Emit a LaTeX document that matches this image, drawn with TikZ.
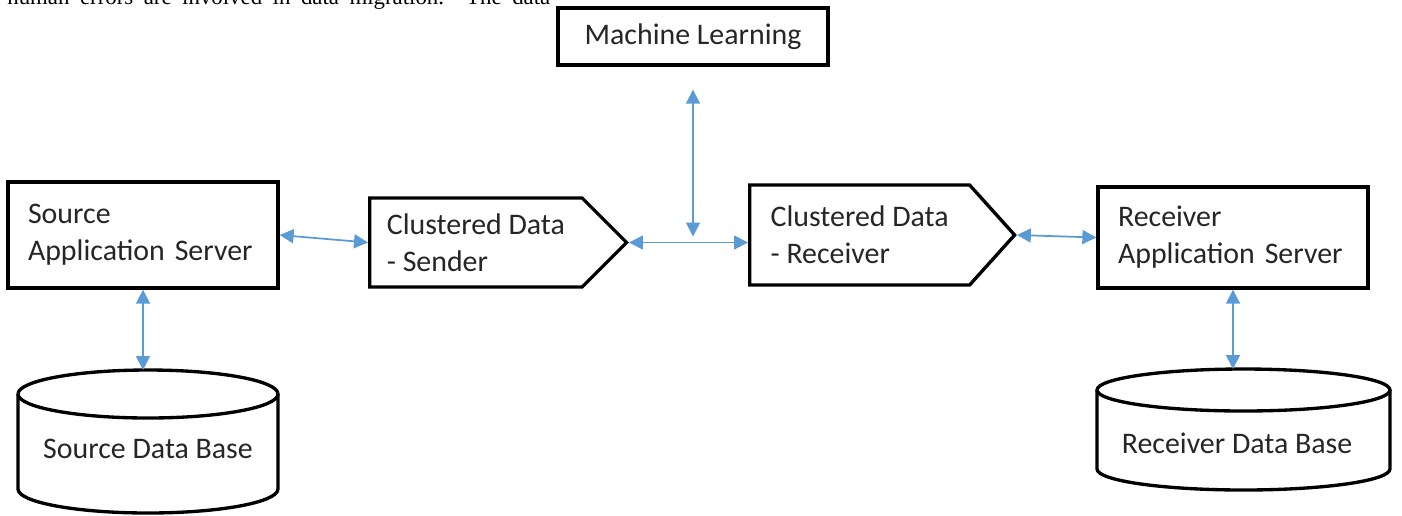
\documentclass[tikz,border=0pt]{standalone}
\usepackage{fontspec}
\setmainfont{Carlito}
\newfontfamily\bodyfont{Liberation Serif}
\usetikzlibrary{arrows.meta,positioning,shapes.symbols,calc}

\definecolor{linkblue}{RGB}{91,155,213}
\tikzset{
    box/.style={draw, line width=1.9pt, fill=white, text=black!85, align=left, inner sep=0pt,
        font=\fontsize{17}{21}\selectfont},
    sigbox/.style={box, signal, signal to=east},
    dbline/.style={line width=1.9pt, fill=white},
    dbtext/.style={text=black!85, font=\fontsize{17}{21}\selectfont},
    link/.style={linkblue, line width=1pt, {Triangle[width=0.28cm,length=0.28cm]}-{Triangle[width=0.28cm,length=0.28cm]}},
}

\begin{document}
\begin{tikzpicture}[x=0.02cm, y=-0.02cm]
    \useasboundingbox (0,0) rectangle (1402,515);
    \clip (0,0) rectangle (1402,515);
    \node[anchor=base west, inner sep=0pt, font=\bodyfont\fontsize{13}{15}\selectfont] (bodyline) at (7,4)
        {\makebox[10.86cm][s]{human errors are involved in data migration. The data}};

    \node[box, minimum width=5.4cm, minimum height=1.14cm, align=center] (ml) at (693,36.5) {Machine Learning};
    \node[box, minimum width=5.4cm, minimum height=2.12cm, text width=4.6cm] (srcapp) at (143,235) {Source\\Application Server};
    \node[box, minimum width=5.4cm, minimum height=2.02cm, text width=4.6cm] (rcvapp) at (1233,237.5) {Receiver\\Application Server};
    \node[sigbox, minimum width=5.14cm, minimum height=1.78cm, anchor=west] (sender) at (368,242.5) {Clustered Data\\- Sender};
    \node[sigbox, minimum width=5.3cm, minimum height=2cm, anchor=west, signal pointer angle=96] (recv) at (748,235) {Clustered Data\\- Receiver};

    \draw[dbline] (18,394) -- (18,489) arc[start angle=180, end angle=360, x radius=2.6cm, y radius=0.48cm] -- (278,394);
    \draw[dbline] (148,394) ellipse [x radius=2.6cm, y radius=0.48cm];
    \coordinate (srcdbtop) at (148,370);
    \node[dbtext] (srcdb) at (148,449) {Source Data Base};

    \draw[dbline] (1097,390) -- (1097,469) arc[start angle=180, end angle=360, x radius=2.93cm, y radius=0.42cm] -- (1390,390);
    \draw[dbline] (1243.5,390) ellipse [x radius=2.93cm, y radius=0.42cm];
    \coordinate (rcvdbtop) at (1243.5,369);
    \node[dbtext] (rcvdb) at (1237,443) {Receiver Data Base};

    \coordinate (hub) at (ml.south |- sender.east);
    \draw[link] (srcapp.east) -- (sender.west);
    \draw[link] (sender.east) -- (sender.east -| recv.west);
    \draw[link] ([yshift=-0.46cm]ml.south) -- ([yshift=0.12cm]hub);
    \draw[link] (recv.east) -- (rcvapp.west);
    \draw[link] (srcapp.south) -- (srcapp.south |- srcdbtop);
    \draw[link] (rcvapp.south) -- (rcvapp.south |- rcvdbtop);
\end{tikzpicture}
\end{document}
